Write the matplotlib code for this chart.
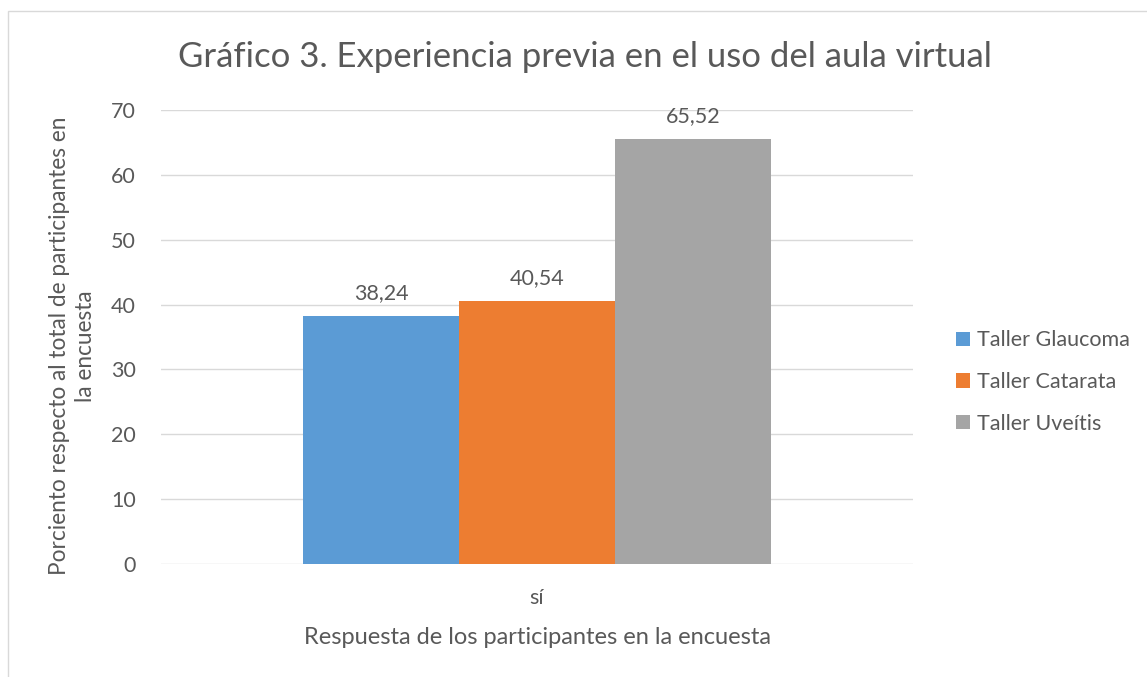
import matplotlib
matplotlib.use("Agg")
import matplotlib.pyplot as plt
from matplotlib.patches import Rectangle

categories = ["sí"]
series_names = ["Taller Glaucoma", "Taller Catarata", "Taller Uveítis"]
series_values = [[38.24], [40.54], [65.52]]
series_colors = ["#5B9BD5", "#ED7D31", "#A5A5A5"]
yticks = [0, 10, 20, 30, 40, 50, 60, 70]
title = "Gráfico 3. Experiencia previa en el uso del aula virtual"
xlabel = "Respuesta de los participantes en la encuesta"
ylabel = "Porciento respecto al total de participantes en\nla encuesta"

plt.rcParams['font.family'] = ['Lato', 'DejaVu Sans']
txt = "#595959"

W, H = 1147, 677
fig = plt.figure(figsize=(W / 100, H / 100), dpi=100)
fig.patches.append(Rectangle((8 / W, -0.01), 1.0, 1 - 11 / H + 0.01, transform=fig.transFigure,
                             fill=False, edgecolor="#d9d9d9", linewidth=1.0))

ax = fig.add_axes([161 / W, (H - 564) / H, (913 - 161) / W, (564 - 110) / H])
bw = 0.2
n = len(series_names)
for i, (name, vals, col) in enumerate(zip(series_names, series_values, series_colors)):
    xs = [c + (i - (n - 1) / 2) * bw for c in range(len(categories))]
    bars = ax.bar(xs, vals, width=bw, color=col, label=name, zorder=3)
    for b, v in zip(bars, vals):
        ax.annotate(f"{v:.2f}".replace(".", ","), (b.get_x() + b.get_width() / 2, v),
                    xytext=(0, 9), textcoords="offset points", ha="center", va="bottom",
                    fontsize=15.5, color=txt)

ax.set_xlim(-0.482, len(categories) - 1 + 0.482)
ax.set_ylim(0, 70)
ax.set_yticks(yticks)
ax.set_xticks(range(len(categories)))
ax.set_xticklabels(categories)
ax.grid(axis="y", color="#d9d9d9", linewidth=1.0, zorder=0)
for s in ax.spines.values():
    s.set_visible(False)
ax.tick_params(axis="both", length=0, labelsize=15.5, colors=txt)
ax.tick_params(axis="y", pad=18)
ax.tick_params(axis="x", pad=17)

ax.set_xlabel(xlabel, fontsize=17, color=txt, labelpad=14)
ax.set_ylabel(ylabel, fontsize=16.3, color=txt, linespacing=1.3)
ax.yaxis.set_label_coords(-0.086, 0.48)

fig.text(585 / W, (H - 57) / H, title, ha="center", va="center", fontsize=25, color=txt)

fig.legend(loc="center left", bbox_to_anchor=(937 / W, (H - 382) / H), frameon=False,
           fontsize=15.5, labelcolor=txt, handlelength=0.65, handleheight=0.65,
           handletextpad=0.3, labelspacing=1.0)

fig.savefig("out.png", dpi=100)
